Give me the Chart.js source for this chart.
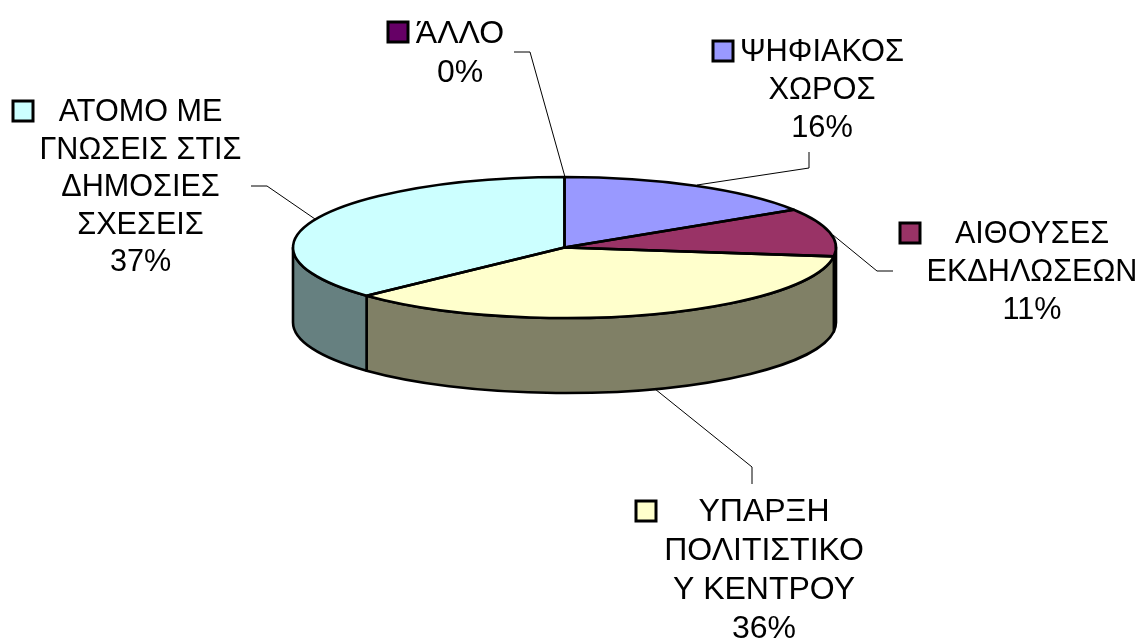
<!DOCTYPE html>
<html>
<head>
<meta charset="utf-8">
<style>html,body{margin:0;padding:0;background:#fff}canvas{display:block}</style>
<script src="https://cdn.jsdelivr.net/npm/chart.js@4"></script>
</head>
<body>
<canvas id="c" width="1142" height="642"></canvas>
<script>
const categories = ["ΨΗΦΙΑΚΟΣ ΧΩΡΟΣ","ΑΙΘΟΥΣΕΣ ΕΚΔΗΛΩΣΕΩΝ","ΥΠΑΡΞΗ ΠΟΛΙΤΙΣΤΙΚΟΥ ΚΕΝΤΡΟΥ","ΑΤΟΜΟ ΜΕ ΓΝΩΣΕΙΣ ΣΤΙΣ ΔΗΜΟΣΙΕΣ ΣΧΕΣΕΙΣ","ΆΛΛΟ"];
const values = [16, 11, 36, 37, 0];
const sliceColors = ["#9999ff","#993366","#ffffcc","#ccffff","#660066"];
const labelLines = [
  ["ΨΗΦΙΑΚΟΣ","ΧΩΡΟΣ","16%"],
  ["ΑΙΘΟΥΣΕΣ","ΕΚΔΗΛΩΣΕΩΝ","11%"],
  ["ΥΠΑΡΞΗ","ΠΟΛΙΤΙΣΤΙΚΟ","Υ ΚΕΝΤΡΟΥ","36%"],
  ["ΑΤΟΜΟ ΜΕ","ΓΝΩΣΕΙΣ ΣΤΙΣ","ΔΗΜΟΣΙΕΣ","ΣΧΕΣΕΙΣ","37%"],
  ["ΆΛΛΟ","0%"]
];
// label layout: centre x, first baseline, line step, font size
const labelCentreX = [822, 1032, 764, 140.5, 460];
const labelFirstBase = [61, 243, 521, 121, 43];
const labelStep = [38, 38, 39, 37.6, 39];
const labelSize = [30.8, 30.6, 32, 30.6, 32];
const keyLeft = [713, 900, 636, 13, 388];
const keyTop = [41, 223, 501, 101, 22];
const leaders = [
  [[809,152],[809,168],[697,185]],
  [[893,271],[877,271],[833,235]],
  [[752,484],[752,467],[655,389]],
  [[251,186],[267,186],[315,219]],
  [[514,52],[530,52],[565,177]]
];
const radiusX = 271.5, radiusY = 70.5, depth = 75;
const squash = radiusY / radiusX;

function darker(hex){
  const n = parseInt(hex.slice(1),16);
  return "rgb(" + [(n>>16)&255,(n>>8)&255,n&255].map(v=>Math.round(v/2)).join(",") + ")";
}

const pie3d = {
  id:"pie3d",
  beforeDatasetsDraw(chart){
    const ctx = chart.ctx, arcs = chart.getDatasetMeta(0).data;
    ctx.save();
    ctx.strokeStyle="#000"; ctx.lineWidth=2.6; ctx.lineJoin="round";
    arcs.forEach((el,i)=>{
      const p = el.getProps(["x","y","startAngle","endAngle"],true);
      const a0 = Math.max(p.startAngle,0), a1 = Math.min(p.endAngle,Math.PI);
      if(a1<=a0) return;
      ctx.beginPath();
      ctx.ellipse(p.x,p.y,radiusX,radiusY,0,a0,a1);
      ctx.ellipse(p.x,p.y+depth,radiusX,radiusY,0,a1,a0,true);
      ctx.closePath();
      ctx.fillStyle = darker(sliceColors[i]);
      ctx.fill(); ctx.stroke();
    });
    ctx.restore();
    const c = arcs[0].getProps(["x","y"],true);
    ctx.save();
    ctx.translate(c.x,c.y); ctx.scale(1,squash); ctx.translate(-c.x,-c.y);
  },
  afterDatasetsDraw(chart){
    const ctx = chart.ctx, arcs = chart.getDatasetMeta(0).data;
    ctx.restore();
    ctx.save();
    ctx.strokeStyle="#000"; ctx.lineWidth=2.6; ctx.lineJoin="round";
    arcs.forEach(el=>{
      const p = el.getProps(["x","y","startAngle","endAngle"],true);
      if(p.endAngle<=p.startAngle) return;
      ctx.beginPath();
      ctx.moveTo(p.x,p.y);
      ctx.ellipse(p.x,p.y,radiusX,radiusY,0,p.startAngle,p.endAngle);
      ctx.closePath();
      ctx.stroke();
    });
    ctx.restore();
  },
  afterDraw(chart){
    const ctx = chart.ctx;
    ctx.save();
    ctx.strokeStyle="#000"; ctx.lineWidth=1;
    leaders.forEach(l=>{
      ctx.beginPath();
      l.forEach((q,i)=> i?ctx.lineTo(q[0],q[1]):ctx.moveTo(q[0],q[1]));
      ctx.stroke();
    });
    ctx.textAlign="center"; ctx.textBaseline="alphabetic"; ctx.fillStyle="#000";
    labelLines.forEach((lines,i)=>{
      ctx.font=labelSize[i]+'px "Liberation Sans"';
      lines.forEach((t,j)=>ctx.fillText(t,labelCentreX[i],labelFirstBase[i]+j*labelStep[i]));
      ctx.fillStyle=sliceColors[i];
      ctx.lineWidth=3;
      ctx.fillRect(keyLeft[i],keyTop[i],20,20);
      ctx.strokeRect(keyLeft[i],keyTop[i],20,20);
      ctx.fillStyle="#000";
    });
    ctx.restore();
  }
};

new Chart(document.getElementById("c"),{
  type:"pie",
  data:{labels:categories,datasets:[{data:values,backgroundColor:sliceColors,borderWidth:0,radius:radiusX,clip:false}]},
  options:{
    responsive:false,animation:false,
    layout:{padding:{left:0,right:13,top:0,bottom:147}},
    plugins:{legend:{display:false},tooltip:{enabled:false}}
  },
  plugins:[pie3d]
});
</script>
</body>
</html>
